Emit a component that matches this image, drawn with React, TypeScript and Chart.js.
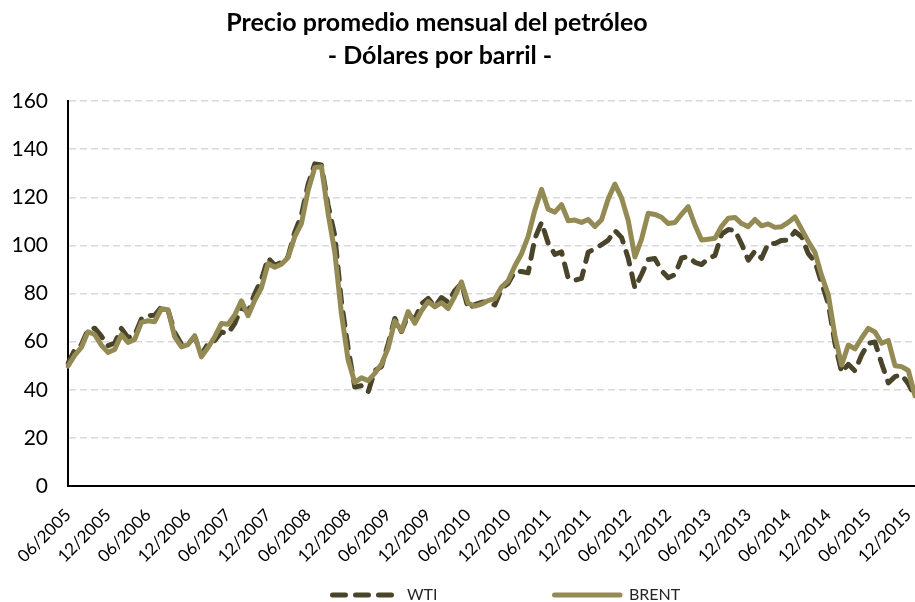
import React, { useEffect, useRef } from 'react';
import { Chart, registerables } from 'chart.js';

Chart.register(...registerables);

// Monthly averages, May 2005 .. Dec 2015 (128 months)
const MONTHS: string[] = [
  '05/2005', '06/2005', '07/2005', '08/2005', '09/2005', '10/2005', '11/2005', '12/2005',
  '01/2006', '02/2006', '03/2006', '04/2006', '05/2006', '06/2006', '07/2006', '08/2006', '09/2006', '10/2006', '11/2006', '12/2006',
  '01/2007', '02/2007', '03/2007', '04/2007', '05/2007', '06/2007', '07/2007', '08/2007', '09/2007', '10/2007', '11/2007', '12/2007',
  '01/2008', '02/2008', '03/2008', '04/2008', '05/2008', '06/2008', '07/2008', '08/2008', '09/2008', '10/2008', '11/2008', '12/2008',
  '01/2009', '02/2009', '03/2009', '04/2009', '05/2009', '06/2009', '07/2009', '08/2009', '09/2009', '10/2009', '11/2009', '12/2009',
  '01/2010', '02/2010', '03/2010', '04/2010', '05/2010', '06/2010', '07/2010', '08/2010', '09/2010', '10/2010', '11/2010', '12/2010',
  '01/2011', '02/2011', '03/2011', '04/2011', '05/2011', '06/2011', '07/2011', '08/2011', '09/2011', '10/2011', '11/2011', '12/2011',
  '01/2012', '02/2012', '03/2012', '04/2012', '05/2012', '06/2012', '07/2012', '08/2012', '09/2012', '10/2012', '11/2012', '12/2012',
  '01/2013', '02/2013', '03/2013', '04/2013', '05/2013', '06/2013', '07/2013', '08/2013', '09/2013', '10/2013', '11/2013', '12/2013',
  '01/2014', '02/2014', '03/2014', '04/2014', '05/2014', '06/2014', '07/2014', '08/2014', '09/2014', '10/2014', '11/2014', '12/2014',
  '01/2015', '02/2015', '03/2015', '04/2015', '05/2015', '06/2015', '07/2015', '08/2015', '09/2015', '10/2015', '11/2015', '12/2015',
];

// Axis labels as printed in the chart (one every 6 months)
const TICK_LABELS: string[] = [
  '06/2005', '12/2005', '06/2006', '12/2006', '06/2007', '12/2007', '06/2008', '12/2008',
  '06/2009', '12/2009', '06/2010', '12/2010', '06/2011', '12/2011', '06/2012', '12/2012',
  '06/2013', '12/2013', '06/2014', '12/2014', '06/2015', '12/2015',
];

const WTI: number[] = [
  50.97, 56.5, 58.65, 64.99, 65.59, 62.26, 58.32, 59.41,
  65.49, 61.63, 62.69, 69.44, 70.84, 70.95, 74.41, 73.04, 63.8, 58.89, 59.08, 61.96,
  54.51, 59.28, 60.44, 63.98, 63.46, 67.49, 74.12, 72.36, 79.92, 85.8, 94.77, 91.69,
  92.97, 95.39, 105.45, 112.58, 125.4, 133.88, 133.37, 116.67, 104.11, 76.61, 57.31, 41.12,
  41.71, 39.09, 47.94, 49.65, 59.03, 69.64, 64.15, 71.05, 69.41, 75.72, 77.99, 74.47,
  78.33, 76.39, 81.2, 84.29, 73.74, 75.34, 76.32, 76.6, 75.24, 81.89, 84.25, 89.15,
  89.17, 88.58, 102.86, 109.53, 100.9, 96.26, 97.3, 86.33, 85.52, 86.32, 97.16, 98.56,
  100.27, 102.2, 106.16, 103.32, 94.66, 82.3, 87.9, 94.13, 94.51, 89.49, 86.53, 87.86,
  94.76, 95.31, 92.94, 92.02, 94.51, 95.77, 104.67, 106.57, 106.29, 100.54, 93.86, 97.63,
  94.62, 100.82, 100.8, 102.07, 102.18, 105.79, 103.59, 96.54, 93.21, 84.4, 75.79, 59.29,
  47.22, 50.58, 47.82, 54.45, 59.27, 59.82, 50.9, 42.87, 45.48, 46.22, 42.44, 37.19,
];

const BRENT: number[] = [
  49.87, 54.31, 57.58, 64.09, 62.98, 58.52, 55.53, 56.75,
  62.87, 59.7, 60.93, 67.97, 68.68, 68.29, 73.67, 73.23, 61.96, 57.81, 58.76, 62.47,
  53.68, 57.56, 62.05, 67.49, 67.21, 71.05, 76.93, 70.76, 77.17, 82.34, 92.41, 90.93,
  92.18, 94.99, 103.64, 109.07, 122.8, 132.32, 132.72, 113.24, 97.23, 71.58, 52.45, 43.0,
  45.0, 43.8, 46.8, 50.6, 57.3, 68.61, 64.44, 72.51, 67.65, 72.77, 76.66, 74.46,
  76.17, 73.75, 78.83, 84.82, 75.95, 74.76, 75.58, 77.04, 77.84, 82.67, 85.28, 91.45,
  96.52, 103.72, 114.64, 123.26, 114.99, 113.83, 116.97, 110.22, 110.5, 109.55, 110.77, 107.87,
  110.69, 119.33, 125.45, 119.75, 110.34, 95.16, 102.62, 113.36, 112.86, 111.71, 109.06, 109.49,
  112.96, 116.05, 108.47, 102.25, 102.56, 102.92, 107.93, 111.28, 111.6, 109.08, 107.79, 110.76,
  108.12, 108.9, 107.48, 107.76, 109.54, 111.8, 106.77, 101.61, 97.09, 87.43, 79.44, 62.34,
  50.3, 58.6, 57.0, 61.5, 65.5, 64.0, 59.3, 60.5, 50.0, 49.6, 48.0, 37.5,
];

const TITLE_LINES: string[] = ['Precio promedio mensual del petróleo', '- Dólares por barril -'];
const SERIES_NAMES: string[] = ['WTI', 'BRENT'];
const Y_MIN = 0;
const Y_MAX = 160;
const Y_STEP = 20;

const FONT = 'Lato, "Open Sans", sans-serif';

const overlayPlugin = {
  id: 'overlay',
  afterDraw(chart: any) {
    const ctx: CanvasRenderingContext2D = chart.ctx;
    ctx.save();
    // title
    ctx.fillStyle = '#000';
    ctx.font = `bold 25px ${FONT}`;
    ctx.textAlign = 'center';
    ctx.textBaseline = 'middle';
    ctx.fillText(TITLE_LINES[0], 437, 23);
    ctx.fillText(TITLE_LINES[1], 440, 56);
    // legend
    const ly = 595;
    chart.data.datasets.forEach((ds: any, i: number) => {
      const x0 = 330 + i * 222;
      ctx.beginPath();
      ctx.strokeStyle = ds.borderColor;
      ctx.lineWidth = ds.borderWidth;
      ctx.lineCap = 'round';
      ctx.setLineDash(ds.borderDash || []);
      ctx.moveTo(x0 + 2.5, ly);
      ctx.lineTo(x0 + (ds.borderDash ? 62 : 68), ly);
      ctx.stroke();
      ctx.setLineDash([]);
      ctx.fillStyle = '#262626';
      ctx.font = `16px ${FONT}`;
      ctx.textAlign = 'left';
      ctx.textBaseline = 'middle';
      ctx.fillText(ds.label, x0 + 77, ly);
    });
    ctx.restore();
  },
};

export default function App() {
  const ref = useRef<HTMLCanvasElement>(null);

  useEffect(() => {
    document.body.style.margin = '0';
    const canvas = ref.current!;
    const chart = new Chart(canvas, {
      type: 'line',
      data: {
        labels: MONTHS,
        datasets: [
          {
            label: SERIES_NAMES[0],
            data: WTI,
            borderColor: '#4A452A',
            backgroundColor: '#4A452A',
            borderWidth: 5,
            borderDash: [13, 10],
            borderCapStyle: 'round',
            borderJoinStyle: 'round',
            pointRadius: 0,
            tension: 0,
            fill: false,
            order: 1,
          },
          {
            label: SERIES_NAMES[1],
            data: BRENT,
            borderColor: '#948A54',
            backgroundColor: '#948A54',
            borderWidth: 5,
            borderCapStyle: 'round',
            borderJoinStyle: 'round',
            pointRadius: 0,
            tension: 0,
            fill: false,
            order: 0,
          },
        ],
      },
      options: {
        responsive: false,
        animation: false,
        devicePixelRatio: 1,
        layout: { padding: { top: 101, left: 0, right: 0, bottom: 0 } },
        plugins: {
          legend: { display: false },
          title: { display: false },
          tooltip: { enabled: false },
        },
        scales: {
          x: {
            type: 'category',
            offset: false,
            grid: { display: false, drawTicks: false },
            border: { display: true, color: '#000', width: 2 },
            ticks: {
              autoSkip: false,
              maxRotation: 45,
              minRotation: 45,
              padding: 19,
              color: '#000',
              font: { family: FONT, size: 17 },
              callback: (_v: any, i: number) => (i % 6 === 0 ? TICK_LABELS[i / 6] : null),
            },
            afterFit: (s: any) => {
              s.height = 116;
              s.paddingLeft = 0;
              s.paddingRight = 0;
            },
          },
          y: {
            min: Y_MIN,
            max: Y_MAX,
            ticks: {
              stepSize: Y_STEP,
              padding: 20,
              color: '#000',
              font: { family: FONT, size: 21 },
            },
            grid: {
              drawTicks: false,
              lineWidth: 1.5,
              color: (c: any) => (c.tick && c.tick.value === 0 ? 'rgba(0,0,0,0)' : '#d9d9d9'),
            },
            border: { display: true, color: '#000', width: 2, dash: [7, 4] },
            afterFit: (s: any) => {
              s.width = 68;
            },
          },
        },
      },
      plugins: [overlayPlugin],
    } as any);
    return () => chart.destroy();
  }, []);

  return (
    <div style={{ width: 915, height: 602, overflow: 'hidden', position: 'relative' }}>
      <canvas ref={ref} width={915} height={602} style={{ display: 'block' }} />
    </div>
  );
}
